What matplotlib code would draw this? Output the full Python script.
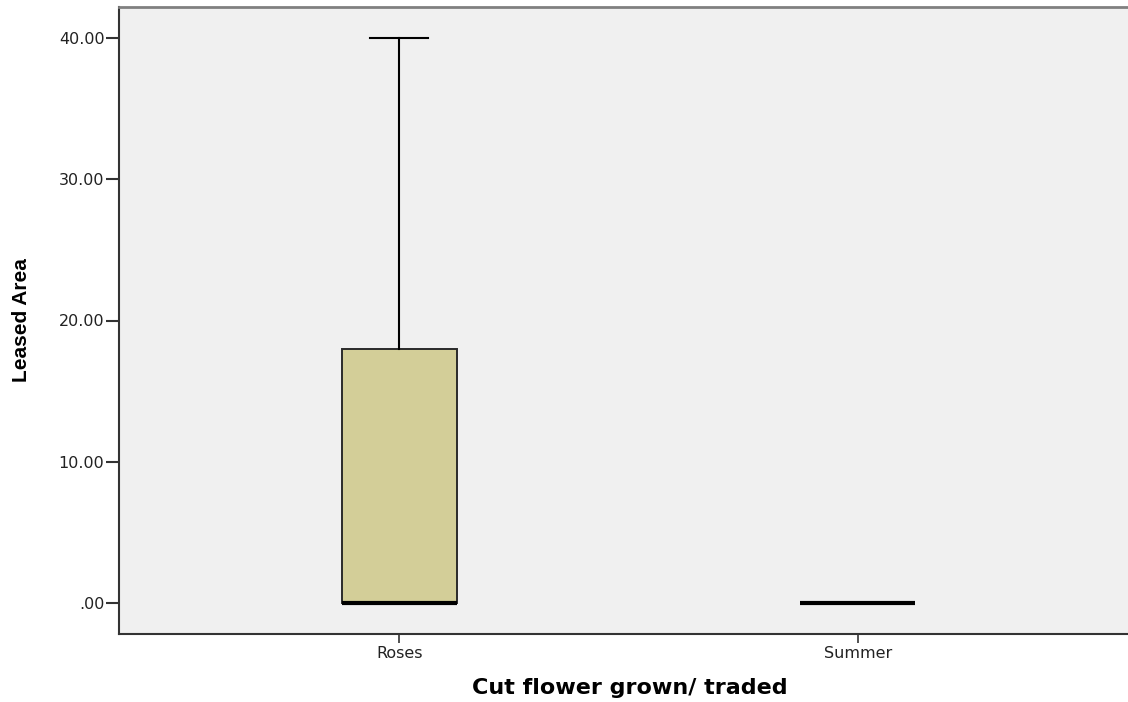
import matplotlib.pyplot as plt
from matplotlib import font_manager

# --- data ---
categories = ["Roses", "Summer"]
whislo = [0, 0]
q1 = [0, 0]
med = [0, 0]
q3 = [18, 0]
whishi = [40, 0]
yticks = [0, 10, 20, 30, 40]
ytick_labels = [".00", "10.00", "20.00", "30.00", "40.00"]

stats = []
for i, name in enumerate(categories):
    stats.append({"label": name, "whislo": whislo[i], "q1": q1[i], "med": med[i],
                  "q3": q3[i], "whishi": whishi[i], "fliers": []})

# narrow font for the y label if we have it
names = {f.name for f in font_manager.fontManager.ttflist}
if "Liberation Sans Narrow" in names:
    ylab_font, ylab_size = "Liberation Sans Narrow", 18
else:
    ylab_font, ylab_size = "Liberation Sans", 15

fig = plt.figure(figsize=(11.28, 7.02), dpi=100)
W, H = 1128, 702
left, right, top, bottom = 119, 1138, 7, 634
ax = fig.add_axes([left / W, 1 - bottom / H, (right - left) / W, (bottom - top) / H])
ax.set_facecolor("#F0F0F0")

ax.bxp(stats, positions=[1, 2], widths=0.25, patch_artist=True, showfliers=False,
       boxprops=dict(facecolor="#D3CE98", edgecolor="#2a2a2a", linewidth=1.4),
       medianprops=dict(color="black", linewidth=3, solid_capstyle="butt"),
       whiskerprops=dict(color="black", linewidth=1.5),
       capprops=dict(color="black", linewidth=1.5), capwidths=0.127)

ax.set_xlim(0.389, 2.611)
ax.set_ylim(-2.19, 42.19)
ax.set_yticks(yticks)
ax.set_yticklabels(ytick_labels)
ax.set_xticks([1, 2])
ax.set_xticklabels(categories)
ax.tick_params(axis="y", length=9.5, width=1.5, color="#333333", labelsize=11.5, pad=1,
               labelcolor="#222222")
ax.tick_params(axis="x", length=6.5, width=1.2, color="#333333", labelsize=11.5, pad=2,
               labelcolor="#222222")

for s in ["left", "bottom"]:
    ax.spines[s].set_color("#333333")
    ax.spines[s].set_linewidth(1.5)
ax.spines["top"].set_color("#808080")
ax.spines["top"].set_linewidth(2)
ax.spines["right"].set_visible(False)

ax.set_ylabel("Leased Area", fontsize=ylab_size, fontweight="bold", family=ylab_font)
ax.yaxis.set_label_coords((22 - left) / (right - left), 0.5)
ax.yaxis.label.set_verticalalignment("center")

ax.set_xlabel("Cut flower grown/ traded", fontsize=16, fontweight="bold")
ax.xaxis.set_label_coords((629.5 - left) / (right - left), (bottom - 688) / (bottom - top))
ax.xaxis.label.set_verticalalignment("center")

fig.savefig("out.png", dpi=100)
